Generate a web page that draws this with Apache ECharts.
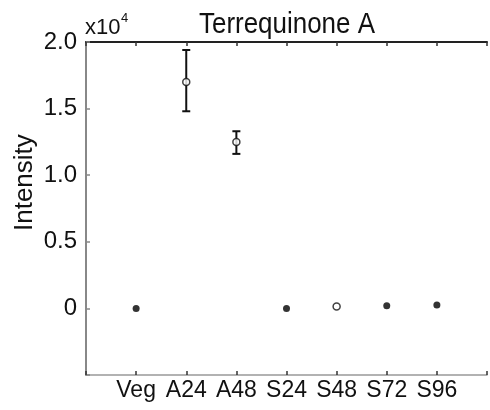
<!DOCTYPE html>
<html>
<head>
<meta charset="utf-8">
<script src="https://cdn.jsdelivr.net/npm/echarts@6/dist/echarts.min.js"></script>
<style>html,body{margin:0;padding:0;background:#fff}#c{width:490px;height:410px}</style>
</head>
<body>
<div id="c"></div>
<script>
const categories = ['Veg', 'A24', 'A48', 'S24', 'S48', 'S72', 'S96'];
const means = [0, 17000, 12500, 0, 150, 200, 250];
const errLow = [null, 14800, 11600, null, null, null, null];
const errHigh = [null, 19400, 13300, null, null, null, null];
const hollow = [false, true, true, false, true, false, false];

const FONT = '"Liberation Sans", Arial, sans-serif';
const chart = echarts.init(document.getElementById('c'));

const pts = categories.map((c, i) => ({
  value: [i + 1, means[i]],
  itemStyle: hollow[i] ? {color: '#fff', borderColor: '#111', borderWidth: 1.5} : {color: '#000'}
}));
const errs = categories.map((c, i) => [i + 1, errLow[i], errHigh[i]]).filter(d => d[1] != null);

chart.setOption({
  animation: false,
  grid: {left: 86, top: 42, right: -4, bottom: 35},
  xAxis: [{
    type: 'value', min: 0, max: 8, interval: 1, position: 'bottom',
    axisLine: {show: true, onZero: false, lineStyle: {color: '#999', width: 1.5}},
    axisTick: {show: true, inside: true, length: 4, lineStyle: {color: '#333', width: 1.5}},
    axisLabel: {formatter: v => categories[v - 1] || '', fontSize: 23, fontFamily: FONT, color: '#111', margin: 4},
    splitLine: {show: false}
  }, {
    type: 'value', min: 0, max: 8, interval: 1, position: 'top',
    axisLine: {show: true, onZero: false, lineStyle: {color: '#222', width: 2}},
    axisTick: {show: true, inside: true, length: 4, lineStyle: {color: '#333', width: 1.5}},
    axisLabel: {show: false},
    splitLine: {show: false}
  }],
  yAxis: {
    type: 'value', min: -5000, max: 20000, interval: 5000,
    axisLine: {show: true, lineStyle: {color: '#888', width: 2}},
    axisTick: {show: true, inside: true, length: 4, lineStyle: {color: '#888', width: 1.5}},
    axisLabel: {
      formatter: v => v < 0 ? '' : (v === 0 ? '0' : (v / 10000).toFixed(1)),
      fontSize: 24, fontFamily: FONT, color: '#111', margin: 9
    },
    splitLine: {show: false}
  },
  graphic: [
    {type: 'text', x: 199, y: 25, scaleX: 0.865, style: {text: 'Terrequinone A', font: '30px ' + FONT, fill: '#111', verticalAlign: 'middle'}},
    {type: 'text', x: 85, y: 28, style: {text: 'x10', font: '22px ' + FONT, fill: '#111', verticalAlign: 'middle'}},
    {type: 'text', x: 121, y: 18, style: {text: '4', font: '13px ' + FONT, fill: '#111', verticalAlign: 'middle'}},
    {type: 'text', x: 12, y: 231, rotation: Math.PI / 2, style: {text: 'Intensity', font: '26px ' + FONT, fill: '#111'}}
  ],
  series: [{
    type: 'custom',
    renderItem: (params, api) => {
      const x = api.value(0);
      const lo = api.coord([x, api.value(1)]);
      const hi = api.coord([x, api.value(2)]);
      const w = 4;
      const st = {stroke: '#111', lineWidth: 2};
      return {type: 'group', children: [
        {type: 'line', shape: {x1: lo[0], y1: lo[1], x2: hi[0], y2: hi[1]}, style: st},
        {type: 'line', shape: {x1: lo[0] - w, y1: lo[1], x2: lo[0] + w, y2: lo[1]}, style: st},
        {type: 'line', shape: {x1: hi[0] - w, y1: hi[1], x2: hi[0] + w, y2: hi[1]}, style: st}
      ]};
    },
    data: errs, z: 2
  }, {
    type: 'scatter', symbol: 'circle', symbolSize: 7, data: pts, z: 3
  }]
});
</script>
</body>
</html>
